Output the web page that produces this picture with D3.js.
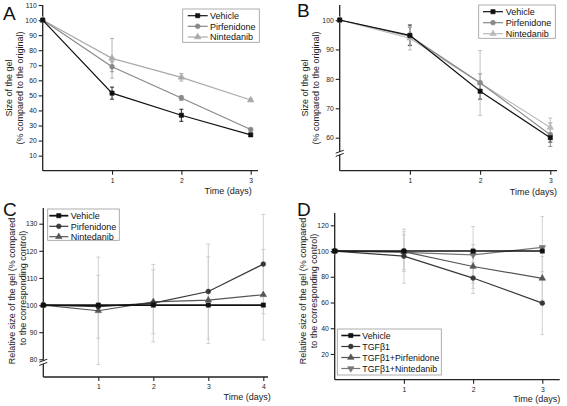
<!DOCTYPE html>
<html><head><meta charset="utf-8">
<script src="https://cdn.jsdelivr.net/npm/d3@7"></script>
<style>body{margin:0;background:#fff}svg{display:block}text{font-family:"Liberation Sans",Arial,sans-serif}</style>
</head><body><svg width="567" height="406"></svg>
<script>
// ---------------- DATA ----------------
const daysA = [0, 1, 2, 3];
const daysB = [0, 1, 2, 3];
const daysC = [0, 1, 2, 3, 4];
const daysD = [0, 1, 2, 3];

const namesABC = ["Vehicle", "Pirfenidone", "Nintedanib"];
const namesD = ["Vehicle", "TGFβ1", "TGFβ1+Pirfenidone", "TGFβ1+Nintedanib"];

// Panel A
const A_vehicle = [100, 51.5, 36.8, 23.8];
const A_vehicleErr = [0, 4, 4, 1];
const A_pirf = [100, 69, 48.3, 27.3];
const A_pirfErr = [0, 3.3, 1.5, 1];
const A_nint = [100, 74.6, 62, 46.9];
const A_nintErr = [0, 13.2, 2.5, 1];
const A_yTicks = [10, 20, 30, 40, 50, 60, 70, 80, 90, 100, 110];

// Panel B
const B_vehicle = [100, 94.8, 75.8, 60];
const B_vehicleErr = [0, 3.5, 2.7, 1.5];
const B_pirf = [100, 94.5, 78.7, 61];
const B_pirfErr = [0, 3, 3, 4];
const B_nint = [100, 93.8, 78.6, 63.5];
const B_nintErr = [0, 4, 11, 3.2];
const B_yTicks = [60, 70, 80, 90, 100];

// Panel C
const C_vehicle = [100, 100, 100, 100, 100];
const C_vehicleErr = [0, 0, 0, 0, 0];
const C_pirf = [100, 99.4, 100.7, 105, 115.1];
const C_pirfErr = [0, 11.6, 14.3, 17.5, 18.3];
const C_nint = [100, 97.9, 101.2, 101.8, 103.8];
const C_nintErr = [0, 19.8, 11.8, 16, 16.7];
const C_yTicks = [80, 90, 100, 110, 120, 130];

// Panel D
const D_vehicle = [100, 100, 100, 100];
const D_vehicleErr = [0, 0, 0, 0];
const D_tgf = [100, 96, 79, 59.5];
const D_tgfErr = [0, 21, 12, 24.5];
const D_tgfPirf = [100, 99.5, 88, 78.8];
const D_tgfPirfErr = [0, 15.5, 17, 17];
const D_tgfNint = [100, 99, 97, 102.8];
const D_tgfNintErr = [0, 13.5, 22, 24];
const D_yTicks = [20, 40, 60, 80, 100, 120];

// ---------------- DRAWING ----------------
const svg = d3.select("svg");
const FONT = '"Liberation Sans",Arial,sans-serif';

const symbols = {
  square: d3.symbol().type(d3.symbolSquare).size(18),
  circle: d3.symbol().type(d3.symbolCircle).size(18),
  tri: d3.symbol().type(d3.symbolTriangle).size(18),
  triDown: d3.symbol().type(d3.symbolTriangle).size(18)
};

function marker(g, shape, cx, cy, color) {
  g.append("path").attr("d", symbols[shape]())
    .attr("transform", `translate(${cx},${cy})` + (shape === "triDown" ? " rotate(180)" : ""))
    .attr("fill", color).attr("stroke", color).attr("stroke-width", 0.6);
}

function drawPanel(p) {
  const g = svg.append("g");
  const x = d3.scaleLinear().domain(p.xDomain).range(p.xRange);
  const y = d3.scaleLinear().domain(p.yDomain).range(p.yRange);
  const x0 = p.xRange[0];

  // axes
  const ya = g.append("g").attr("transform", `translate(${x0},0)`)
    .call(d3.axisLeft(y).tickValues(p.yTicks).tickSize(4).tickPadding(2).tickSizeOuter(0));
  ya.select(".domain").remove();
  const xa = g.append("g").attr("transform", `translate(0,${p.axisY})`)
    .call(d3.axisBottom(x).tickValues(p.xTicks).tickSize(4).tickPadding(3).tickFormat(d3.format("d")));
  xa.select(".domain").remove();
  [ya, xa].forEach(a => {
    a.selectAll("text").attr("font-size", 6.8).attr("font-family", FONT).attr("fill", "#222");
    a.selectAll("line").attr("stroke", "#222").attr("stroke-width", 1.1);
  });
  g.append("line").attr("x1", x0).attr("x2", x0).attr("y1", p.axisTop).attr("y2", p.axisY)
    .attr("stroke", "#222").attr("stroke-width", 1.3);
  g.append("line").attr("x1", x0).attr("x2", p.axisRight).attr("y1", p.axisY).attr("y2", p.axisY)
    .attr("stroke", "#222").attr("stroke-width", 1.3);

  if (p.breakY != null) {
    const by = p.breakY;
    g.append("rect").attr("x", x0 - 2).attr("y", by - 1.5).attr("width", 4).attr("height", 3).attr("fill", "#fff");
    [-1.6, 1.6].forEach(o => {
      g.append("line").attr("x1", x0 - 4).attr("x2", x0 + 4)
        .attr("y1", by + o + 1.5).attr("y2", by + o - 1.5)
        .attr("stroke", "#222").attr("stroke-width", 1);
    });
  }

  // error bars
  p.series.forEach(s => {
    const ec = s.errColor || s.color;
    s.values.forEach((v, i) => {
      const e = s.err[i];
      if (!e) return;
      const cx = x(p.days[i]);
      g.append("line").attr("x1", cx).attr("x2", cx).attr("y1", y(v - e)).attr("y2", y(v + e))
        .attr("stroke", ec).attr("stroke-width", 0.9);
      [v - e, v + e].forEach(t => {
        g.append("line").attr("x1", cx - 2).attr("x2", cx + 2).attr("y1", y(t)).attr("y2", y(t))
          .attr("stroke", ec).attr("stroke-width", 0.9);
      });
    });
  });

  // lines + markers (draw in reverse so first series is on top)
  const line = d3.line().x(d => x(d[0])).y(d => y(d[1]));
  p.series.slice().reverse().forEach(s => {
    const pts = p.days.map((d, i) => [d, s.values[i]]);
    g.append("path").attr("d", line(pts)).attr("fill", "none")
      .attr("stroke", s.color).attr("stroke-width", s.width || 1.2);
    pts.forEach(pt => marker(g, s.shape, x(pt[0]), y(pt[1]), s.color));
  });

  // legend
  const L = p.legend;
  g.append("rect").attr("x", L.x).attr("y", L.y).attr("width", L.w).attr("height", L.h)
    .attr("fill", "#fff").attr("stroke", "#999").attr("stroke-width", 0.8);
  p.series.forEach((s, i) => {
    const ly = L.rows[i];
    g.append("line").attr("x1", L.lx1).attr("x2", L.lx2).attr("y1", ly).attr("y2", ly)
      .attr("stroke", s.color).attr("stroke-width", s.width || 1.2);
    marker(g, s.shape, (L.lx1 + L.lx2) / 2, ly, s.color);
    g.append("text").attr("x", L.tx).attr("y", ly + 3.2).attr("font-size", L.fs || 9)
      .attr("font-family", FONT).attr("fill", "#111").text(s.name);
  });

  // titles
  p.yTitle.forEach(t => {
    g.append("text").attr("transform", `translate(${t.x},${t.y}) rotate(-90)`)
      .attr("text-anchor", "middle").attr("font-size", 9).attr("font-family", FONT)
      .attr("fill", "#222").text(t.text);
  });
  g.append("text").attr("x", p.xTitle.x).attr("y", p.xTitle.y).attr("text-anchor", "end")
    .attr("font-size", 9).attr("font-family", FONT).attr("fill", "#222").text("Time (days)");
  g.append("text").attr("x", p.letter.x).attr("y", p.letter.y).attr("font-size", 19)
    .attr("font-family", FONT).attr("fill", "#111").text(p.letter.text);
}

// Panel A
drawPanel({
  days: daysA, xDomain: [0, 3], xRange: [42.7, 250.7], axisRight: 258, xTicks: [1, 2, 3],
  yDomain: [0, 110], yRange: [170.7, 5], yTicks: A_yTicks, axisY: 170.7, axisTop: 5,
  series: [
    { name: namesABC[0], values: A_vehicle, err: A_vehicleErr, color: "#111", shape: "square" },
    { name: namesABC[1], values: A_pirf, err: A_pirfErr, color: "#888", shape: "circle" },
    { name: namesABC[2], values: A_nint, err: A_nintErr, color: "#aaa", shape: "tri" }
  ],
  legend: { x: 182.7, y: 9, w: 76.6, h: 33.3, rows: [15.7, 26.3, 37], lx1: 187.7, lx2: 207.7, tx: 210 },
  yTitle: [{ x: 12, y: 88, text: "Size of the gel" }, { x: 22.5, y: 88, text: "(% compared to the original)" }],
  xTitle: { x: 251.7, y: 194 },
  letter: { x: 3, y: 20, text: "A" }
});

// Panel B
drawPanel({
  days: daysB, xDomain: [0, 3], xRange: [339.7, 550.3], axisRight: 557, xTicks: [1, 2, 3],
  yDomain: [60, 100], yRange: [137.7, 20], yTicks: B_yTicks, axisY: 170.7, axisTop: 5, breakY: 153.3,
  series: [
    { name: namesABC[0], values: B_vehicle, err: B_vehicleErr, color: "#111", shape: "square" },
    { name: namesABC[1], values: B_pirf, err: B_pirfErr, color: "#888", shape: "circle" },
    { name: namesABC[2], values: B_nint, err: B_nintErr, color: "#bbb", shape: "tri" }
  ],
  legend: { x: 478.7, y: 5, w: 76.6, h: 33.3, rows: [11.7, 22.7, 33.7], lx1: 483, lx2: 503, tx: 505.7 },
  yTitle: [{ x: 308, y: 88, text: "Size of the gel" }, { x: 319, y: 88, text: "(% compared to the original)" }],
  xTitle: { x: 557, y: 195 },
  letter: { x: 297, y: 17, text: "B" }
});

// Panel C
drawPanel({
  days: daysC, xDomain: [0, 4], xRange: [43.3, 263.3], axisRight: 268, xTicks: [1, 2, 3, 4],
  yDomain: [80, 130], yRange: [359.3, 223.7], yTicks: C_yTicks, axisY: 377, axisTop: 208, breakY: 362.3,
  series: [
    { name: namesABC[0], values: C_vehicle, err: C_vehicleErr, color: "#111", shape: "square", width: 1.8 },
    { name: namesABC[1], values: C_pirf, err: C_pirfErr, color: "#383838", shape: "circle", errColor: "#ccc" },
    { name: namesABC[2], values: C_nint, err: C_nintErr, color: "#555", shape: "tri", errColor: "#ccc" }
  ],
  legend: { x: 47.7, y: 209, w: 71.6, h: 31.3, rows: [215.7, 226.3, 236.7], lx1: 49.3, lx2: 68.3, tx: 70.7 },
  yTitle: [{ x: 15, y: 291, text: "Relative size of the gel (% compared" }, { x: 25.5, y: 288, text: "to the corresponding control)" }],
  xTitle: { x: 270.7, y: 399.7 },
  letter: { x: 3, y: 216, text: "C" }
});

// Panel D
drawPanel({
  days: daysD, xDomain: [0, 3], xRange: [334.7, 542.3], axisRight: 559.7, xTicks: [1, 2, 3],
  yDomain: [0, 120], yRange: [379.7, 225.3], yTicks: D_yTicks, axisY: 379.7, axisTop: 213,
  series: [
    { name: namesD[0], values: D_vehicle, err: D_vehicleErr, color: "#111", shape: "square", width: 1.6 },
    { name: namesD[1], values: D_tgf, err: D_tgfErr, color: "#383838", shape: "circle", errColor: "#ccc" },
    { name: namesD[2], values: D_tgfPirf, err: D_tgfPirfErr, color: "#555", shape: "tri", errColor: "#ccc" },
    { name: namesD[3], values: D_tgfNint, err: D_tgfNintErr, color: "#777", shape: "triDown", errColor: "#ccc" }
  ],
  legend: { x: 337.3, y: 329, w: 104, h: 46, rows: [335.5, 346.5, 357.5, 368.5], lx1: 341.3, lx2: 360.3, tx: 362.3, fs: 8.8 },
  yTitle: [{ x: 305.5, y: 291, text: "Relative size of the gel (% compared" }, { x: 316.5, y: 291, text: "to the corresponding control)" }],
  xTitle: { x: 560.3, y: 402 },
  letter: { x: 297, y: 216, text: "D" }
});
</script></body></html>
